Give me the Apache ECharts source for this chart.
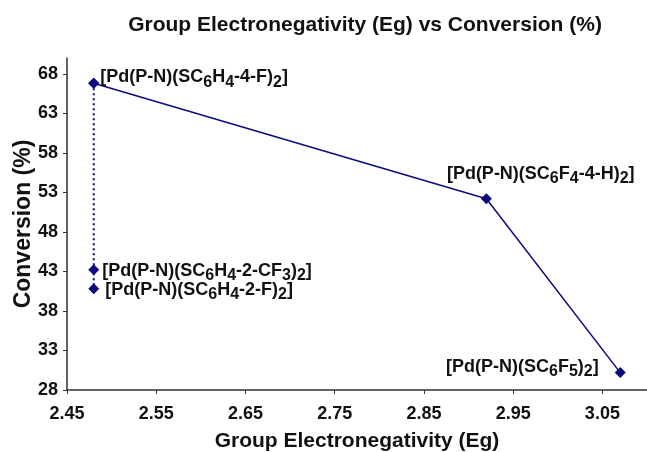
<!DOCTYPE html>
<html>
<head>
<meta charset="utf-8">
<script src="https://cdn.jsdelivr.net/npm/echarts@6/dist/echarts.min.js"></script>
<style>
  html, body { margin: 0; padding: 0; background: #fff; }
  #main { width: 647px; height: 452px; }
</style>
</head>
<body>
<div id="main"></div>
<script>
// data
var compounds = [
  '[Pd(P-N)(SC{s|6}H{s|4}-4-F){s|2}]',
  '[Pd(P-N)(SC{s|6}F{s|4}-4-H){s|2}]',
  '[Pd(P-N)(SC{s|6}F{s|5}){s|2}]'
];
var egValues = [2.48, 2.92, 3.07];
var convValues = [66.8, 52.2, 30.2];

// the ortho-substituted ones sit on the same Eg as the 4-F one
var orthoCompounds = [
  '[Pd(P-N)(SC{s|6}H{s|4}-4-F){s|2}]',
  '[Pd(P-N)(SC{s|6}H{s|4}-2-CF{s|3}){s|2}]',
  '[Pd(P-N)(SC{s|6}H{s|4}-2-F){s|2}]'
];
var orthoEg = [2.48, 2.48, 2.48];
var orthoConv = [66.8, 43.2, 40.8];

var xTicks = [2.45, 2.55, 2.65, 2.75, 2.85, 2.95, 3.05];
var yTicks = [28, 33, 38, 43, 48, 53, 58, 63, 68];

var navy = '#0b0b7e';
var font = 'Liberation Sans, Arial, sans-serif';

var richText = {
  m: { fontSize: 18, fontWeight: 'bold', color: '#111', fontFamily: font, lineHeight: 22, verticalAlign: 'top' },
  s: { fontSize: 16, fontWeight: 'bold', color: '#111', fontFamily: font, lineHeight: 18, padding: [9, 0, 0, 0], verticalAlign: 'bottom' }
};

// wrap plain parts of a label into the "m" style
function toRich(str) {
  return str.split(/(\{s\|[^}]*\})/).map(function (p) {
    if (!p) return '';
    return p.charAt(0) === '{' ? p : '{m|' + p + '}';
  }).join('');
}

// label placement per point
var mainLabels = [
  { position: 'right', distance: 1, offset: [0, -4] },
  { position: 'right', distance: 0, offset: [-45, -23] },
  { position: 'left', distance: 16, offset: [0, -4] }
];
var orthoLabels = [
  { show: false },
  { position: 'right', distance: 3, offset: [0, 3] },
  { position: 'right', distance: 6, offset: [0, 3] }
];

function makeData(xs, ys, names, places) {
  return xs.map(function (x, i) {
    var l = places[i];
    return {
      value: [x, ys[i]],
      label: l.show === false ? { show: false } : {
        show: true, position: l.position, distance: l.distance, offset: l.offset,
        formatter: toRich(names[i]), rich: richText
      }
    };
  });
}

var myChart = echarts.init(document.getElementById('main'));

var option = {
  backgroundColor: '#fff',
  animation: false,
  title: {
    text: 'Group Electronegativity (Eg) vs Conversion (%)',
    left: 360,
    top: 10,
    textAlign: 'center',
    textStyle: { fontSize: 21, fontWeight: 'bold', color: '#111', fontFamily: font }
  },
  grid: { left: 67, top: 58, right: 0, bottom: 62, containLabel: false, outerBoundsMode: 'none' },
  xAxis: {
    type: 'value',
    min: 2.45,
    max: 3.1,
    interval: 0.1,
    name: 'Group Electronegativity (Eg)',
    nameLocation: 'middle',
    nameGap: 41,
    nameMoveOverlap: false,
    nameTextStyle: { fontSize: 21, fontWeight: 'bold', color: '#111', fontFamily: font },
    axisLine: { lineStyle: { color: '#333', width: 1.5 } },
    axisTick: { show: true, length: 4, lineStyle: { color: '#333' }, customValues: xTicks },
    axisLabel: { fontSize: 18, fontWeight: 'bold', color: '#111', fontFamily: font, margin: 15,
      customValues: xTicks, formatter: function (v) { return v.toFixed(2); } },
    splitLine: { show: false }
  },
  yAxis: {
    type: 'value',
    min: 28,
    max: 70,
    interval: 5,
    name: 'Conversion (%)',
    nameLocation: 'middle',
    nameGap: 32,
    nameMoveOverlap: false,
    nameRotate: 90,
    nameTextStyle: { fontSize: 23, fontWeight: 'bold', color: '#111', fontFamily: font },
    axisLine: { show: true, lineStyle: { color: '#333', width: 1.5 } },
    axisTick: { show: true, length: 4, lineStyle: { color: '#333' }, customValues: yTicks },
    axisLabel: { fontSize: 18, fontWeight: 'bold', color: '#111', fontFamily: font, margin: 9, customValues: yTicks },
    splitLine: { show: false }
  },
  series: [
    {
      type: 'line',
      data: makeData(orthoEg, orthoConv, orthoCompounds, orthoLabels),
      symbol: 'diamond',
      symbolSize: 11,
      itemStyle: { color: navy },
      lineStyle: { color: navy, width: 2, type: [2, 3] },
      z: 2
    },
    {
      type: 'line',
      data: makeData(egValues, convValues, compounds, mainLabels),
      symbol: 'diamond',
      symbolSize: 11,
      itemStyle: { color: navy },
      lineStyle: { color: navy, width: 1.5, type: 'solid' },
      z: 3
    }
  ]
};

myChart.setOption(option);
</script>
</body>
</html>
